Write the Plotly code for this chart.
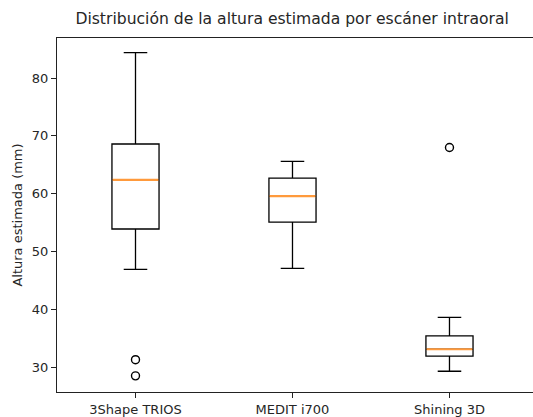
import plotly.graph_objects as go

categories = ["3Shape TRIOS", "MEDIT i700", "Shining 3D"]
positions = [1, 2, 3]
q1 = [53.9, 55.1, 31.9]
median = [62.4, 59.6, 33.1]
q3 = [68.6, 62.7, 35.4]
lower_whisker = [46.9, 47.1, 29.3]
upper_whisker = [84.4, 65.6, 38.6]
outliers = [[31.3, 28.5], [], [68.0]]
y_ticks = [30, 40, 50, 60, 70, 80]

box_width = 0.3
font_family = "DejaVu Sans, Verdana, sans-serif"

fig = go.Figure()

for i, cat in enumerate(categories):
    fig.add_trace(go.Box(
        x=[positions[i]],
        q1=[q1[i]], median=[median[i]], q3=[q3[i]],
        lowerfence=[lower_whisker[i]], upperfence=[upper_whisker[i]],
        width=box_width, whiskerwidth=0.5,
        line=dict(color="black", width=1.3),
        fillcolor="rgba(255,255,255,0)",
        boxpoints=False, showlegend=False, hoverinfo="skip",
    ))
    # orange median line
    fig.add_trace(go.Scatter(
        x=[positions[i] - box_width / 2 + 0.004, positions[i] + box_width / 2 - 0.004],
        y=[median[i], median[i]],
        mode="lines", line=dict(color="#ff9a3c", width=2.2),
        showlegend=False, hoverinfo="skip",
    ))
    if outliers[i]:
        fig.add_trace(go.Scatter(
            x=[positions[i]] * len(outliers[i]), y=outliers[i],
            mode="markers",
            marker=dict(symbol="circle-open", size=8, color="black", line=dict(width=1.4)),
            showlegend=False, hoverinfo="skip",
        ))

fig.update_layout(
    width=533, height=417,
    margin=dict(l=57, r=0, t=38, b=22),
    paper_bgcolor="white", plot_bgcolor="white",
    font=dict(family=font_family, size=13, color="#262626"),
    title=dict(text="Distribución de la altura estimada por escáner intraoral",
               font=dict(size=15.6, color="#262626"),
               xref="paper", x=0.494, xanchor="center",
               yref="container", y=1 - 19 / 417, yanchor="middle"),
    xaxis=dict(range=[0.5, 3.532], tickvals=positions, ticktext=categories,
               showline=True, linecolor="#222", linewidth=1.2, mirror=True,
               ticks="outside", ticklen=5, tickcolor="#222",
               showgrid=False, zeroline=False),
    yaxis=dict(range=[25.71, 86.93], tickvals=y_ticks,
               showline=True, linecolor="#222", linewidth=1.2, mirror=False,
               ticks="outside", ticklen=5, tickcolor="#222",
               showgrid=False, zeroline=False,
               title=dict(text="Altura estimada (mm)", standoff=6,
                          font=dict(size=13))),
)

fig.write_html("out.html")
